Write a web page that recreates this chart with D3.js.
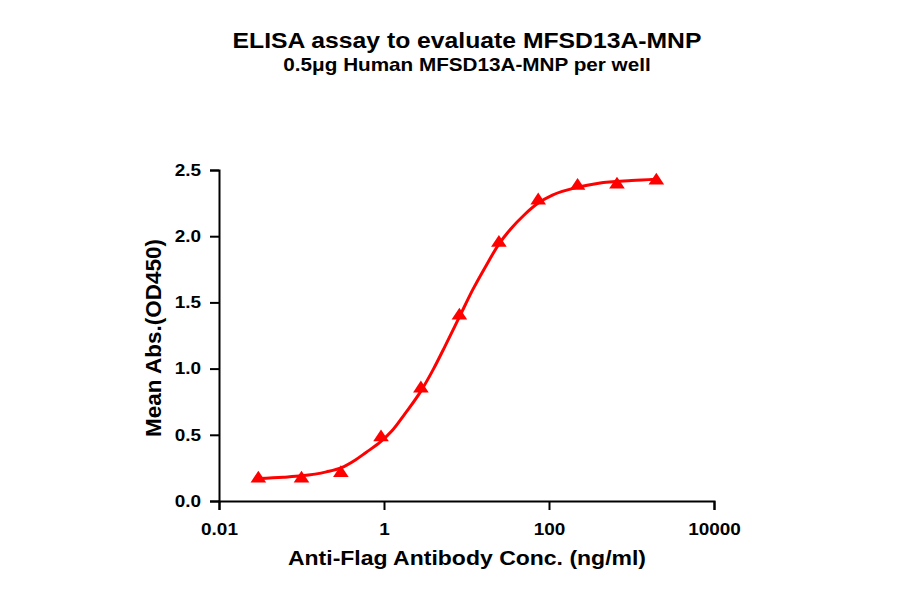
<!DOCTYPE html>
<html>
<head>
<meta charset="utf-8">
<script src="https://cdn.jsdelivr.net/npm/d3@7"></script>
<style>
  body { margin: 0; background: #fff; }
  text { font-family: "Liberation Sans", Arial, sans-serif; font-weight: bold; fill: #000; }
</style>
</head>
<body>
<script>
// measured points (ng/ml vs OD450)
const conc = [0.03, 0.1, 0.3, 0.92, 2.8, 8.2, 24.7, 74, 222, 667, 2000];
const od = [0.17, 0.17, 0.21, 0.48, 0.85, 1.40, 1.95, 2.27, 2.38, 2.39, 2.42];

// fitted curve
const fitConc = [0.03, 0.06, 0.1, 0.2, 0.3, 0.45, 0.6, 0.92, 1.25, 1.8, 2.8, 4, 5.5, 8.2, 12, 17, 24.7, 35, 50, 74, 110, 222, 400, 1000, 2000];
const fitOd = [0.17, 0.18, 0.19, 0.22, 0.25, 0.31, 0.365, 0.45, 0.53, 0.66, 0.83, 1.00, 1.17, 1.39, 1.60, 1.77, 1.94, 2.06, 2.16, 2.25, 2.31, 2.37, 2.40, 2.42, 2.43];

const xTicks = [0.01, 1, 100, 10000];
const yTicks = [0.0, 0.5, 1.0, 1.5, 2.0, 2.5];

const w = 900, h = 594;
const sx = 1.15;   // text in the original is drawn a bit wide
const svg = d3.select("body").append("svg")
  .attr("width", w).attr("height", h);

const x = d3.scaleLog().domain([0.01, 10000]).range([219, 714]);
const y = d3.scaleLinear().domain([0, 2.5]).range([501, 170]);

// titles
svg.append("text").attr("transform", `translate(467,47.5) scale(${sx},1)`)
  .attr("text-anchor", "middle").style("font-size", "21.5px")
  .text("ELISA assay to evaluate MFSD13A-MNP");
svg.append("text").attr("transform", `translate(467,70.5) scale(${sx},1)`)
  .attr("text-anchor", "middle").style("font-size", "18px")
  .text("0.5μg Human MFSD13A-MNP per well");

// axes
const xAxis = svg.append("g").attr("transform", "translate(0,501)")
  .call(d3.axisBottom(x).tickValues(xTicks).tickFormat(d => String(d)).tickSize(9).tickPadding(13));
const yAxis = svg.append("g").attr("transform", "translate(219,0)")
  .call(d3.axisLeft(y).tickValues(yTicks).tickFormat(d3.format(".1f")).tickSize(9).tickPadding(9));

[xAxis, yAxis].forEach(g => {
  g.select(".domain").attr("stroke", "#000").attr("stroke-width", 2);
  g.selectAll(".tick line").attr("stroke", "#000").attr("stroke-width", 2);
  g.selectAll(".tick text").style("font-size", "16.5px")
    .style("font-family", "'Liberation Sans', Arial, sans-serif").style("font-weight", "bold")
    .attr("fill", "#000");
});
xAxis.selectAll(".tick text").attr("transform", `scale(${sx},1)`);
yAxis.selectAll(".tick text").attr("x", -18 / sx).attr("transform", `scale(${sx},1)`);

// axis titles
svg.append("text").attr("transform", `translate(467,565) scale(${sx},1)`)
  .attr("text-anchor", "middle").style("font-size", "20px")
  .text("Anti-Flag Antibody Conc. (ng/ml)");
svg.append("text")
  .attr("transform", "translate(161,338) rotate(-90)")
  .attr("text-anchor", "middle").style("font-size", "22.5px")
  .text("Mean Abs.(OD450)");

// fitted curve
const line = d3.line()
  .x(d => x(d[0])).y(d => y(d[1]))
  .curve(d3.curveMonotoneX);
svg.append("path")
  .datum(d3.zip(fitConc, fitOd))
  .attr("d", line)
  .attr("fill", "none").attr("stroke", "#ff0000").attr("stroke-width", 3);

// points
svg.selectAll(".pt")
  .data(d3.zip(conc, od))
  .enter().append("path")
  .attr("class", "pt")
  .attr("d", d3.symbol().type(d3.symbolTriangle).size(80))
  .attr("transform", d => `translate(${x(d[0])},${y(d[1])}) scale(${sx},1)`)
  .attr("fill", "#ff0000");
</script>
</body>
</html>
